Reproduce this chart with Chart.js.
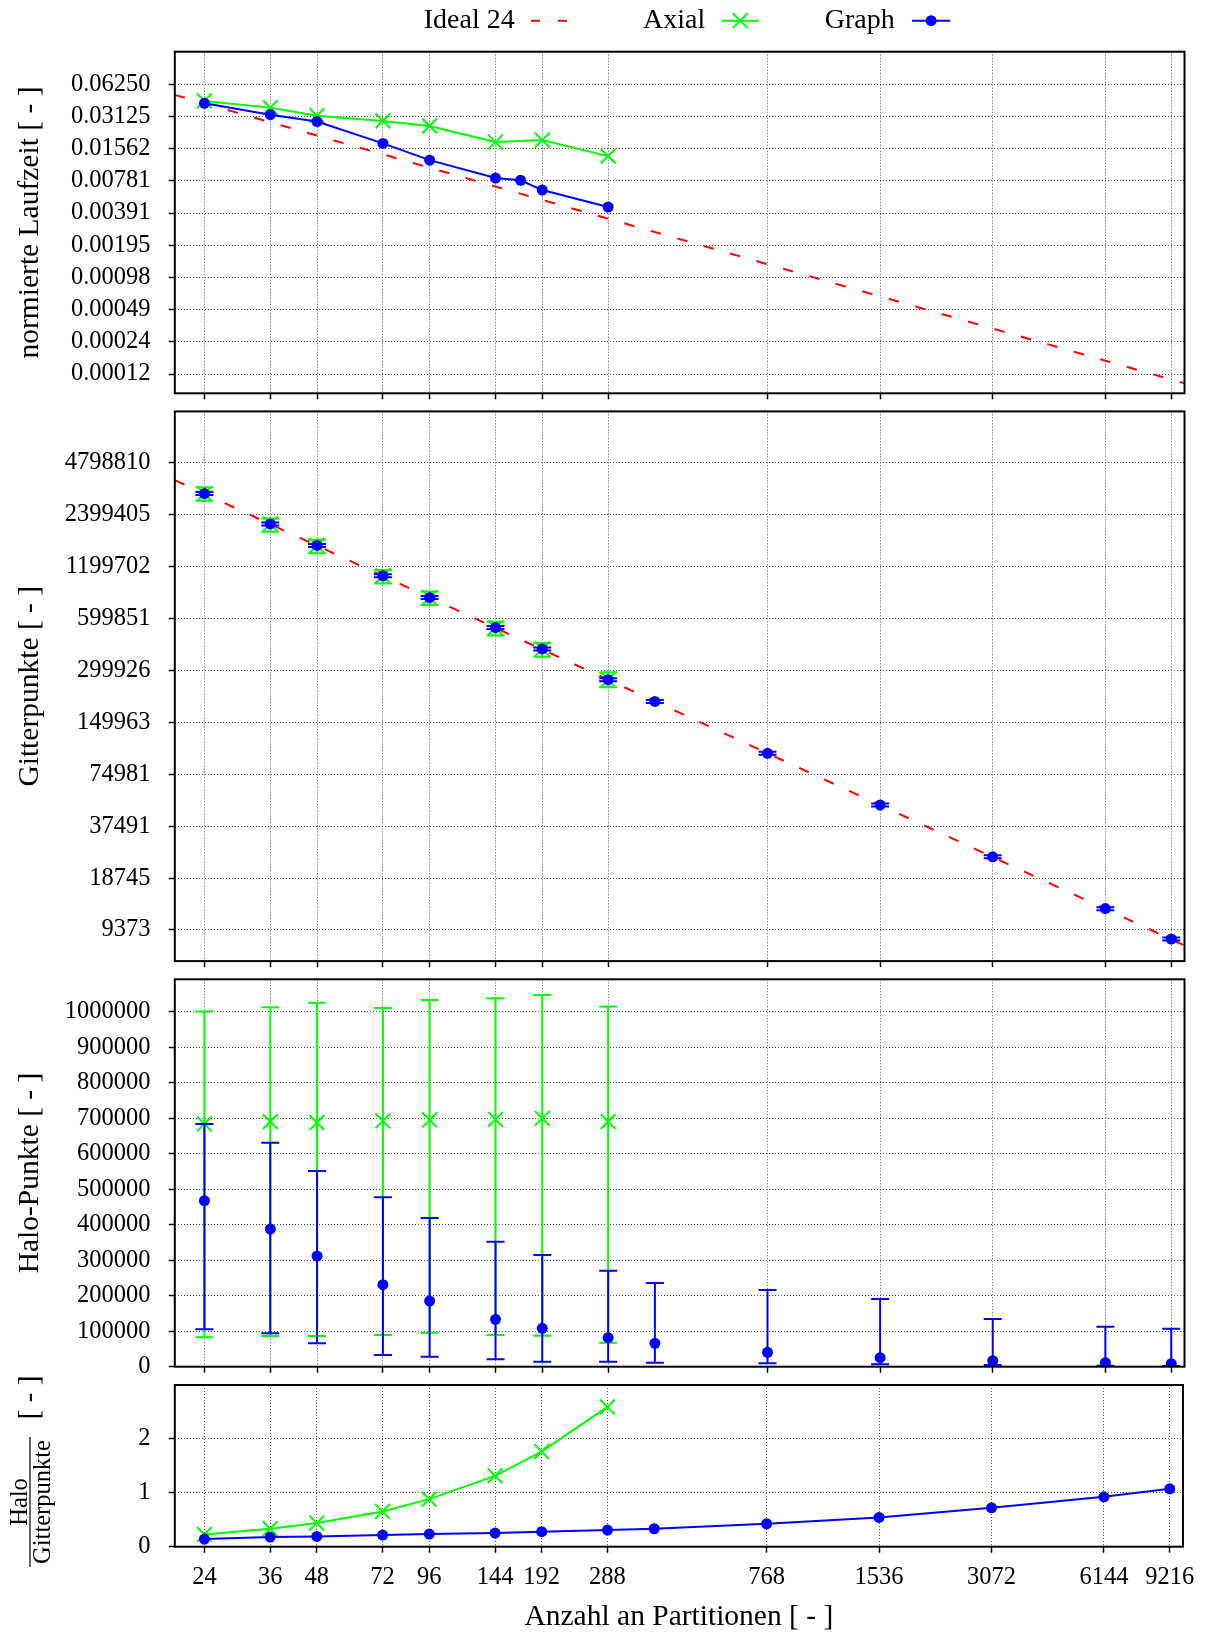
<!DOCTYPE html>
<html>
<head>
<meta charset="utf-8">
<script src="https://cdn.jsdelivr.net/npm/chart.js@4.4.1/dist/chart.umd.min.js"></script>
<style>
  html, body { margin: 0; padding: 0; background: #ffffff; }
  #wrap { position: relative; width: 1205px; height: 1635px; background: #ffffff; }
  #wrap canvas { position: absolute; left: 0; top: 0; }
</style>
</head>
<body>
<div id="wrap">
  <canvas id="c1" width="1205" height="1635"></canvas>
  <canvas id="c2" width="1205" height="1635"></canvas>
  <canvas id="c3" width="1205" height="1635"></canvas>
  <canvas id="c4" width="1205" height="1635"></canvas>
</div>
<script>
// ---------------- DATA ----------------
const seriesLabels = ['Ideal 24', 'Axial', 'Graph'];
const xTitle = 'Anzahl an Partitionen [ - ]';
const xTickValues = [24, 36, 48, 72, 96, 144, 192, 288, 768, 1536, 3072, 6144, 9216];
const xTickLabels = ['24', '36', '48', '72', '96', '144', '192', '288', '768', '1536', '3072', '6144', '9216'];

const partitionsAxial = [24, 36, 48, 72, 96, 144, 192, 288];
const partitionsGraph = [24, 36, 48, 72, 96, 144, 192, 288, 384, 768, 1536, 3072, 6144, 9216];
const partitionsGraphRuntime = [24, 36, 48, 72, 96, 144, 168, 192, 288];
const idealX = [20, 10000];

// Panel 1: normierte Laufzeit
const runtimeTitle = 'normierte Laufzeit [ - ]';
const runtimeAxial = [0.0436, 0.0378, 0.0318, 0.0284, 0.0255, 0.0180, 0.0188, 0.0133];
const runtimeGraph = [0.0415, 0.0325, 0.0280, 0.0175, 0.0122, 0.00830, 0.00790, 0.00641, 0.00445];
const runtimeIdeal = [0.0497, 0.000100];
const runtimeTickValues = [0.0001220703125, 0.000244140625, 0.00048828125, 0.0009765625, 0.001953125,
                           0.00390625, 0.0078125, 0.015625, 0.03125, 0.0625];
const runtimeTickLabels = ['0.00012', '0.00024', '0.00049', '0.00098', '0.00195',
                           '0.00391', '0.00781', '0.01562', '0.03125', '0.06250'];

// Panel 2: Gitterpunkte
const gridTitle = 'Gitterpunkte [ - ]';
const gridAxialMean = [3184000, 2122000, 1594000, 1063000, 794600, 532400, 399900, 265300];
const gridAxialMin  = [2895000, 1911000, 1435000, 957000, 718800, 479300, 360000, 240100];
const gridAxialMax  = [3470000, 2281000, 1721000, 1147000, 861900, 574600, 433500, 293300];
const gridGraphMean = [3184000, 2122000, 1594000, 1063000, 794600, 532400, 399900, 265300, 198300, 99290, 49730, 24900, 12470, 8312];
const gridGraphMin  = [3120000, 2080000, 1562000, 1042000, 778700, 521800, 391900, 260000, 194300, 97300, 48740, 24400, 12220, 8146];
const gridGraphMax  = [3248000, 2164000, 1626000, 1084000, 810500, 543000, 407900, 270600, 202300, 101300, 50720, 25400, 12720, 8478];
const gridIdeal = [3813000, 7630];
const gridTickValues = [9372.68, 18745.36, 37490.7, 74981.4, 149962.8, 299925.6, 599851.25, 1199702.5, 2399405, 4798810];
const gridTickLabels = ['9373', '18745', '37491', '74981', '149963', '299926', '599851', '1199702', '2399405', '4798810'];

// Panel 3: Halo-Punkte
const haloTitle = 'Halo-Punkte [ - ]';
const haloAxialMean = [683600, 690100, 687300, 692000, 694800, 696700, 699500, 690100];
const haloAxialMin  = [82600, 86400, 86400, 89200, 95800, 89200, 87300, 67600];
const haloAxialMax  = [1000000, 1012200, 1025300, 1010300, 1032900, 1037600, 1046900, 1014100];
const haloGraphMean = [467600, 387800, 311700, 231000, 185000, 133300, 108000, 81700, 65700, 40400, 25400, 16900, 11300, 8450];
const haloGraphMin  = [105200, 93900, 65700, 32900, 28200, 20700, 14100, 14100, 11300, 9400, 6600, 4700, 2800, 1900];
const haloGraphMax  = [683600, 631000, 551200, 477000, 418800, 352100, 314600, 270400, 235700, 216000, 190600, 134300, 112700, 107000];
const haloTickValues = [0, 100000, 200000, 300000, 400000, 500000, 600000, 700000, 800000, 900000, 1000000];
const haloTickLabels = ['0', '100000', '200000', '300000', '400000', '500000', '600000', '700000', '800000', '900000', '1000000'];

// Panel 4: Halo / Gitterpunkte
const ratioNumerator = 'Halo';
const ratioDenominator = 'Gitterpunkte';
const ratioUnit = '[ - ]';
const ratioAxial = [0.228, 0.333, 0.438, 0.654, 0.883, 1.315, 1.765, 2.593];
const ratioGraph = [0.142, 0.179, 0.191, 0.216, 0.235, 0.253, 0.278, 0.309, 0.333, 0.426, 0.543, 0.722, 0.926, 1.074];
const ratioTickValues = [0, 1, 2];
const ratioTickLabels = ['0', '1', '2'];

// ---------------- LAYOUT / STYLE ----------------
const W = 1205, H = 1635;
const plotLeft = 174.8, plotRight = 1184.5;
const panels = [
  { top: 51.7,  bottom: 393.3 },
  { top: 411.4, bottom: 961.1 },
  { top: 979.3, bottom: 1366.7 },
  { top: 1385,  bottom: 1546.7 }
];
const FONT = "'Liberation Serif', 'Times New Roman', serif";
const RED = '#ff0000', GREEN = '#00ff00', BLUE = '#0000ff';
const TICK_FONT = 24.5, LEGEND_FONT = 28, LABEL_FONT = 29.5;
const IDEAL_DASH = [10.5, 17];

Chart.defaults.font.family = FONT;
Chart.defaults.color = '#000';
Chart.defaults.animation = false;

const pts = (xs, ys) => xs.map((x, i) => ({ x: x, y: ys[i] }));

// ---------------- PLUGINS ----------------
const framePlugin = {
  id: 'frame',
  afterDatasetsDraw(chart) {
    const { ctx, chartArea: a } = chart;
    ctx.save();
    ctx.strokeStyle = '#000';
    ctx.lineWidth = 2;
    ctx.setLineDash([]);
    ctx.strokeRect(a.left, a.top, a.right - a.left, a.bottom - a.top);
    ctx.restore();
  }
};

const errorBarPlugin = {
  id: 'errorBars',
  beforeDatasetDraw(chart, args) {
    const ds = chart.data.datasets[args.index];
    if (!ds.errMin || !ds.errMax) return;
    const xs = chart.scales.x, ys = chart.scales.y, ctx = chart.ctx;
    const cap = 9;
    ctx.save();
    ctx.strokeStyle = ds.borderColor;
    ctx.lineWidth = 2;
    ctx.setLineDash([]);
    ds.data.forEach((p, i) => {
      const px = xs.getPixelForValue(p.x);
      const y1 = ys.getPixelForValue(ds.errMin[i]);
      const y2 = ys.getPixelForValue(ds.errMax[i]);
      ctx.beginPath();
      ctx.moveTo(px, y1); ctx.lineTo(px, y2);
      ctx.moveTo(px - cap, y1); ctx.lineTo(px + cap, y1);
      ctx.moveTo(px - cap, y2); ctx.lineTo(px + cap, y2);
      ctx.stroke();
    });
    ctx.restore();
  }
};

const legendPlugin = {
  id: 'gnuLegend',
  afterDraw(chart) {
    const ctx = chart.ctx;
    const yLine = 20.7, base = 28.3;
    ctx.save();
    ctx.font = LEGEND_FONT + 'px ' + FONT;
    ctx.fillStyle = '#000';
    ctx.textAlign = 'right';
    ctx.textBaseline = 'alphabetic';
    // Ideal 24
    ctx.fillText(seriesLabels[0], 514.7, base);
    ctx.strokeStyle = RED; ctx.lineWidth = 2; ctx.setLineDash([9, 18]);
    ctx.beginPath(); ctx.moveTo(531, yLine); ctx.lineTo(567.5, yLine); ctx.stroke();
    ctx.setLineDash([]);
    // Axial
    ctx.fillText(seriesLabels[1], 705.3, base);
    ctx.strokeStyle = GREEN; ctx.lineWidth = 2;
    ctx.beginPath(); ctx.moveTo(721.7, yLine); ctx.lineTo(758.9, yLine); ctx.stroke();
    const cx = 740.3, d = 7.4;
    ctx.beginPath();
    ctx.moveTo(cx - d, yLine - d); ctx.lineTo(cx + d, yLine + d);
    ctx.moveTo(cx - d, yLine + d); ctx.lineTo(cx + d, yLine - d);
    ctx.stroke();
    // Graph
    ctx.fillText(seriesLabels[2], 894.7, base);
    ctx.strokeStyle = BLUE; ctx.fillStyle = BLUE; ctx.lineWidth = 2;
    ctx.beginPath(); ctx.moveTo(912, yLine); ctx.lineTo(950.2, yLine); ctx.stroke();
    ctx.beginPath(); ctx.arc(931.1, yLine, 5.5, 0, Math.PI * 2); ctx.fill();
    ctx.restore();
  }
};

const fractionLabelPlugin = {
  id: 'fractionLabel',
  afterDraw(chart) {
    const ctx = chart.ctx;
    const cy = 1502;
    ctx.save();
    ctx.fillStyle = '#000';
    ctx.strokeStyle = '#000';
    ctx.translate(30, cy);
    ctx.rotate(-Math.PI / 2);
    ctx.font = TICK_FONT + 'px ' + FONT;
    ctx.textAlign = 'center';
    ctx.textBaseline = 'alphabetic';
    ctx.fillText(ratioNumerator, 0, -2.8);
    ctx.fillText(ratioDenominator, 0, 20);
    ctx.lineWidth = 1.2;
    ctx.beginPath(); ctx.moveTo(-65, 0); ctx.lineTo(65, 0); ctx.stroke();
    ctx.restore();
    ctx.save();
    ctx.fillStyle = '#000';
    ctx.translate(30, 1397.5);
    ctx.rotate(-Math.PI / 2);
    ctx.font = LABEL_FONT + 'px ' + FONT;
    ctx.textAlign = 'center';
    ctx.textBaseline = 'middle';
    ctx.fillText(ratioUnit, 0, 0);
    ctx.restore();
  }
};

// ---------------- SCALES ----------------
function gridOpts() {
  return { color: '#555', lineWidth: 1, drawTicks: true, tickLength: 6, tickColor: '#000', tickWidth: 1.5 };
}

function xAxis(isBottom) {
  return {
    type: 'logarithmic', min: 20, max: 10000, bounds: 'data', position: 'bottom',
    afterBuildTicks: s => { s.ticks = xTickValues.map(v => ({ value: v })); },
    afterFit: s => { s.height = isBottom ? (H - panels[3].bottom) : 8; },
    ticks: {
      display: isBottom, autoSkip: false, maxRotation: 0, minRotation: 0, padding: 10.5,
      font: { size: TICK_FONT }, callback: (v, i) => xTickLabels[i]
    },
    grid: gridOpts(),
    border: { display: false, dash: [1, 2] },
    title: isBottom
      ? { display: true, text: xTitle, font: { size: LABEL_FONT }, padding: { top: 0, bottom: 0 } }
      : { display: false }
  };
}

function yAxis(cfg) {
  return {
    type: cfg.type, min: cfg.min, max: cfg.max, bounds: 'data', position: 'left',
    afterBuildTicks: s => { s.ticks = cfg.tickValues.map(v => ({ value: v })); },
    afterFit: s => { s.width = plotLeft; },
    ticks: {
      autoSkip: false, padding: 18.3, font: { size: TICK_FONT },
      callback: (v, i) => cfg.tickLabels[i]
    },
    grid: gridOpts(),
    border: { display: false, dash: [1, 2] },
    title: cfg.title
      ? { display: true, text: cfg.title, font: { size: LABEL_FONT }, padding: { top: 12.3, bottom: 0 } }
      : { display: false }
  };
}

function makeChart(id, panelIndex, datasets, yCfg, extraPlugins) {
  const p = panels[panelIndex];
  const isBottom = panelIndex === 3;
  return new Chart(document.getElementById(id), {
    type: 'scatter',
    data: { datasets: datasets },
    options: {
      responsive: false, animation: false, events: [],
      layout: { padding: { left: 0, right: W - plotRight, top: p.top, bottom: isBottom ? 0 : (H - p.bottom - 8) } },
      plugins: { legend: { display: false }, tooltip: { enabled: false } },
      scales: { x: xAxis(isBottom), y: yAxis(yCfg) }
    },
    plugins: [errorBarPlugin, framePlugin].concat(extraPlugins || [])
  });
}

function graphDs(data, showLine, errMin, errMax) {
  return {
    label: seriesLabels[2], data: data, showLine: showLine,
    borderColor: BLUE, backgroundColor: BLUE, borderWidth: 2,
    pointStyle: 'circle', pointRadius: 5.5, pointBorderWidth: 0,
    pointBackgroundColor: BLUE, errMin: errMin, errMax: errMax
  };
}
function axialDs(data, showLine, errMin, errMax) {
  return {
    label: seriesLabels[1], data: data, showLine: showLine,
    borderColor: GREEN, backgroundColor: GREEN, borderWidth: 2,
    pointStyle: 'crossRot', pointRadius: 10.5, pointBorderWidth: 2,
    pointBorderColor: GREEN, errMin: errMin, errMax: errMax
  };
}
function idealDs(data) {
  return {
    label: seriesLabels[0], data: data, showLine: true,
    borderColor: RED, backgroundColor: RED, borderWidth: 2, borderDash: IDEAL_DASH,
    pointRadius: 0
  };
}

// ---------------- CHARTS ----------------
makeChart('c1', 0, [
  graphDs(pts(partitionsGraphRuntime, runtimeGraph), true),
  axialDs(pts(partitionsAxial, runtimeAxial), true),
  idealDs(pts(idealX, runtimeIdeal))
], { type: 'logarithmic', min: 0.0000806, max: 0.126, tickValues: runtimeTickValues, tickLabels: runtimeTickLabels, title: runtimeTitle },
[legendPlugin]);

makeChart('c2', 1, [
  graphDs(pts(partitionsGraph, gridGraphMean), false, gridGraphMin, gridGraphMax),
  axialDs(pts(partitionsAxial, gridAxialMean), false, gridAxialMin, gridAxialMax),
  idealDs(pts(idealX, gridIdeal))
], { type: 'logarithmic', min: 6187, max: 9544000, tickValues: gridTickValues, tickLabels: gridTickLabels, title: gridTitle });

makeChart('c3', 2, [
  graphDs(pts(partitionsGraph, haloGraphMean), false, haloGraphMin, haloGraphMax),
  axialDs(pts(partitionsAxial, haloAxialMean), false, haloAxialMin, haloAxialMax)
], { type: 'linear', min: 0, max: 1091000, tickValues: haloTickValues, tickLabels: haloTickLabels, title: haloTitle });

makeChart('c4', 3, [
  graphDs(pts(partitionsGraph, ratioGraph), true),
  axialDs(pts(partitionsAxial, ratioAxial), true)
], { type: 'linear', min: 0, max: 3, tickValues: ratioTickValues, tickLabels: ratioTickLabels, title: null },
[fractionLabelPlugin]);
</script>
</body>
</html>
